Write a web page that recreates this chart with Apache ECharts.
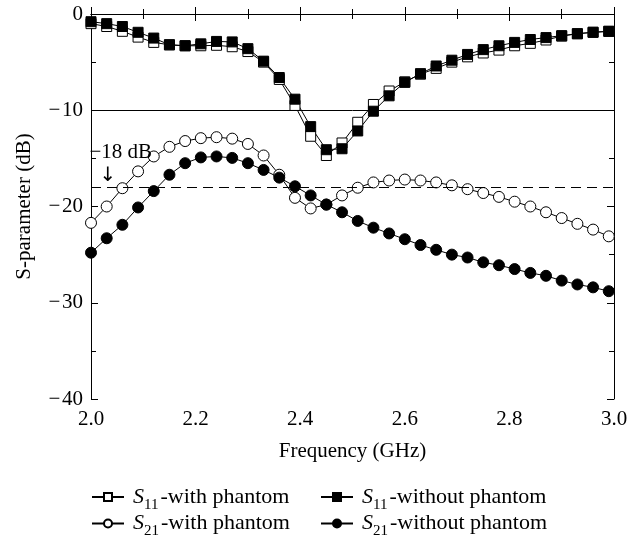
<!DOCTYPE html>
<html>
<head>
<meta charset="utf-8">
<script src="https://cdn.jsdelivr.net/npm/echarts@6/dist/echarts.min.js"></script>
<style>
html,body{margin:0;padding:0;background:#fff;}
#chart{width:639px;height:535px;}
</style>
</head>
<body>
<div id="chart"></div>
<script>
const freq = [2.00, 2.03, 2.06, 2.09, 2.12, 2.15, 2.18, 2.21, 2.24, 2.27, 2.30, 2.33, 2.36, 2.39, 2.42, 2.45, 2.48,
              2.51, 2.54, 2.57, 2.60, 2.63, 2.66, 2.69, 2.72, 2.75, 2.78, 2.81, 2.84, 2.87, 2.90, 2.93, 2.96, 2.99];
const s11With = [-1.0, -1.3, -1.8, -2.4, -2.95, -3.2, -3.3, -3.3, -3.25, -3.4, -3.9, -5.0, -6.8, -9.5, -12.7, -14.7, -13.4,
                 -11.25, -9.4, -8.0, -7.05, -6.25, -5.65, -5.0, -4.45, -4.05, -3.75, -3.3, -3.05, -2.7, -2.3, -2.05, -1.9, -1.8];
const s11Without = [-0.8, -1.0, -1.3, -1.9, -2.5, -3.2, -3.3, -3.1, -2.85, -2.9, -3.6, -4.9, -6.6, -8.85, -11.7, -14.1, -14.0,
                    -12.15, -10.1, -8.5, -7.1, -6.2, -5.4, -4.8, -4.2, -3.7, -3.3, -2.95, -2.65, -2.45, -2.25, -2.05, -1.9, -1.8];
const s21With = [-21.7, -20.0, -18.1, -16.35, -14.8, -13.8, -13.2, -12.9, -12.8, -12.95, -13.5, -14.7, -16.7, -19.1, -20.2, -19.8, -18.85,
                 -18.05, -17.5, -17.3, -17.2, -17.3, -17.5, -17.8, -18.2, -18.6, -19.0, -19.5, -20.0, -20.6, -21.2, -21.8, -22.4, -23.1];
const s21Without = [-24.8, -23.3, -21.9, -20.1, -18.4, -16.7, -15.5, -14.9, -14.8, -14.95, -15.5, -16.2, -17.0, -17.9, -18.85, -19.8, -20.6,
                    -21.5, -22.2, -22.8, -23.4, -24.0, -24.5, -25.0, -25.3, -25.8, -26.1, -26.5, -26.9, -27.2, -27.7, -28.1, -28.4, -28.8];
const xTicks = [2.0, 2.2, 2.4, 2.6, 2.8, 3.0];
const yTicks = [0, -10, -20, -30, -40];
const refLevels = [-10, -18];
const seriesNames = ['S11-with phantom', 'S21-with phantom', 'S11-without phantom', 'S21-without phantom'];

const FONT = '"Liberation Serif", "Times New Roman", serif';
const BLACK = '#000';

function pairs(ys) { return ys.map((y, i) => [freq[i], y]); }

function richName(name) {
  const m = name.match(/^S(\d\d)(.*)$/);
  return '{i|S}{sub|' + m[1] + '}{t|' + m[2] + '}';
}
const rich = {
  i: { fontFamily: FONT, fontStyle: 'italic', fontSize: 22, color: BLACK, lineHeight: 22, verticalAlign: 'middle' },
  sub: { fontFamily: FONT, fontSize: 15, color: BLACK, lineHeight: 15, height: 6, verticalAlign: 'bottom', padding: [0, 2, 0, 0] },
  t: { fontFamily: FONT, fontSize: 22, color: BLACK, lineHeight: 22, verticalAlign: 'middle' }
};

function fmtY(v) { return v < 0 ? '\u2212\u200A' + Math.abs(v) : String(v); }

const chart = echarts.init(document.getElementById('chart'), null, { renderer: 'canvas' });

const baseAxisLine = { show: true, lineStyle: { color: BLACK, width: 1 } };

function makeSeries(name, ys, symbol, filled) {
  return {
    name: name,
    type: 'line',
    data: pairs(ys),
    symbol: symbol,
    symbolSize: symbol === 'rect' ? 10 : 11,
    showAllSymbol: true,
    lineStyle: { color: BLACK, width: 1 },
    itemStyle: { color: filled ? BLACK : '#fff', borderColor: BLACK, borderWidth: 1 },
    emphasis: { disabled: true },
    animation: false
  };
}

const series = [
  makeSeries(seriesNames[0], s11With, 'rect', false),
  makeSeries(seriesNames[2], s11Without, 'rect', true),
  makeSeries(seriesNames[1], s21With, 'circle', false),
  makeSeries(seriesNames[3], s21Without, 'circle', true)
];
series.push({
  name: 'ref',
  type: 'line',
  data: [],
  silent: true,
  markLine: {
    silent: true,
    symbol: ['none', 'none'],
    label: { show: false },
    animation: false,
    data: [
      { yAxis: refLevels[0], lineStyle: { color: BLACK, width: 1, type: 'solid' } },
      { yAxis: refLevels[1], lineStyle: { color: BLACK, width: 1, type: [10, 6] } }
    ]
  },
  markPoint: {
    silent: true,
    symbol: 'circle',
    symbolSize: 0,
    animation: false,
    data: [
      { coord: [2.057, -14.4], label: { show: true, formatter: '\u221218 dB', fontFamily: FONT, fontSize: 21, color: BLACK, position: 'inside' } },
      { coord: [2.0325, -16.8], label: { show: true, formatter: '\u2193', fontFamily: '"DejaVu Sans", sans-serif', fontSize: 20, color: BLACK, position: 'inside' } }
    ]
  }
});

const legendCommon = {
  orient: 'vertical',
  top: 486,
  height: 60,
  padding: 0,
  itemWidth: 32, itemHeight: 10, itemGap: 0,
  selectedMode: false,
  formatter: richName,
  textStyle: { rich: rich, padding: [0, 0, 0, 4] }
};

const option = {
  backgroundColor: '#fff',
  animation: false,
  textStyle: { fontFamily: FONT, color: BLACK },
  grid: { left: 91, right: 25, top: 14, bottom: 136, containLabel: false },
  legend: [
    Object.assign({ data: [seriesNames[0], seriesNames[1]], left: 91 }, legendCommon),
    Object.assign({ data: [seriesNames[2], seriesNames[3]], left: 320 }, legendCommon)
  ],
  xAxis: [
    {
      type: 'value', min: 2.0, max: 3.0, interval: 0.2,
      name: 'Frequency (GHz)', nameLocation: 'middle', nameGap: 42,
      nameTextStyle: { fontFamily: FONT, fontSize: 21, color: BLACK },
      axisLine: baseAxisLine,
      axisTick: { show: true, inside: true, length: 7, lineStyle: { color: BLACK } },
      minorTick: { show: true, splitNumber: 2, length: 5, lineStyle: { color: BLACK } },
      axisLabel: { fontFamily: FONT, fontSize: 21, color: BLACK, margin: 10, formatter: v => v.toFixed(1) },
      splitLine: { show: false }
    },
    {
      type: 'value', min: 2.0, max: 3.0, interval: 0.2, position: 'top',
      axisLine: baseAxisLine,
      axisTick: { show: true, inside: true, length: 7, lineStyle: { color: BLACK } },
      minorTick: { show: true, splitNumber: 2, length: 5, lineStyle: { color: BLACK } },
      axisLabel: { show: false },
      splitLine: { show: false }
    }
  ],
  yAxis: [
    {
      type: 'value', min: -40, max: 0, interval: 10,
      name: 'S-parameter (dB)', nameLocation: 'middle', nameGap: 56,
      nameTextStyle: { fontFamily: FONT, fontSize: 21, color: BLACK },
      axisLine: baseAxisLine,
      axisTick: { show: true, inside: true, length: 7, lineStyle: { color: BLACK } },
      minorTick: { show: true, splitNumber: 2, length: 5, lineStyle: { color: BLACK } },
      axisLabel: { fontFamily: FONT, fontSize: 21, color: BLACK, margin: 8, formatter: fmtY },
      splitLine: { show: false }
    },
    {
      type: 'value', min: -40, max: 0, interval: 10, position: 'right',
      axisLine: baseAxisLine,
      axisTick: { show: true, inside: true, length: 7, lineStyle: { color: BLACK } },
      minorTick: { show: true, splitNumber: 2, length: 5, lineStyle: { color: BLACK } },
      axisLabel: { show: false },
      splitLine: { show: false }
    }
  ],
  series: series
};
chart.setOption(option);
</script>
</body>
</html>
